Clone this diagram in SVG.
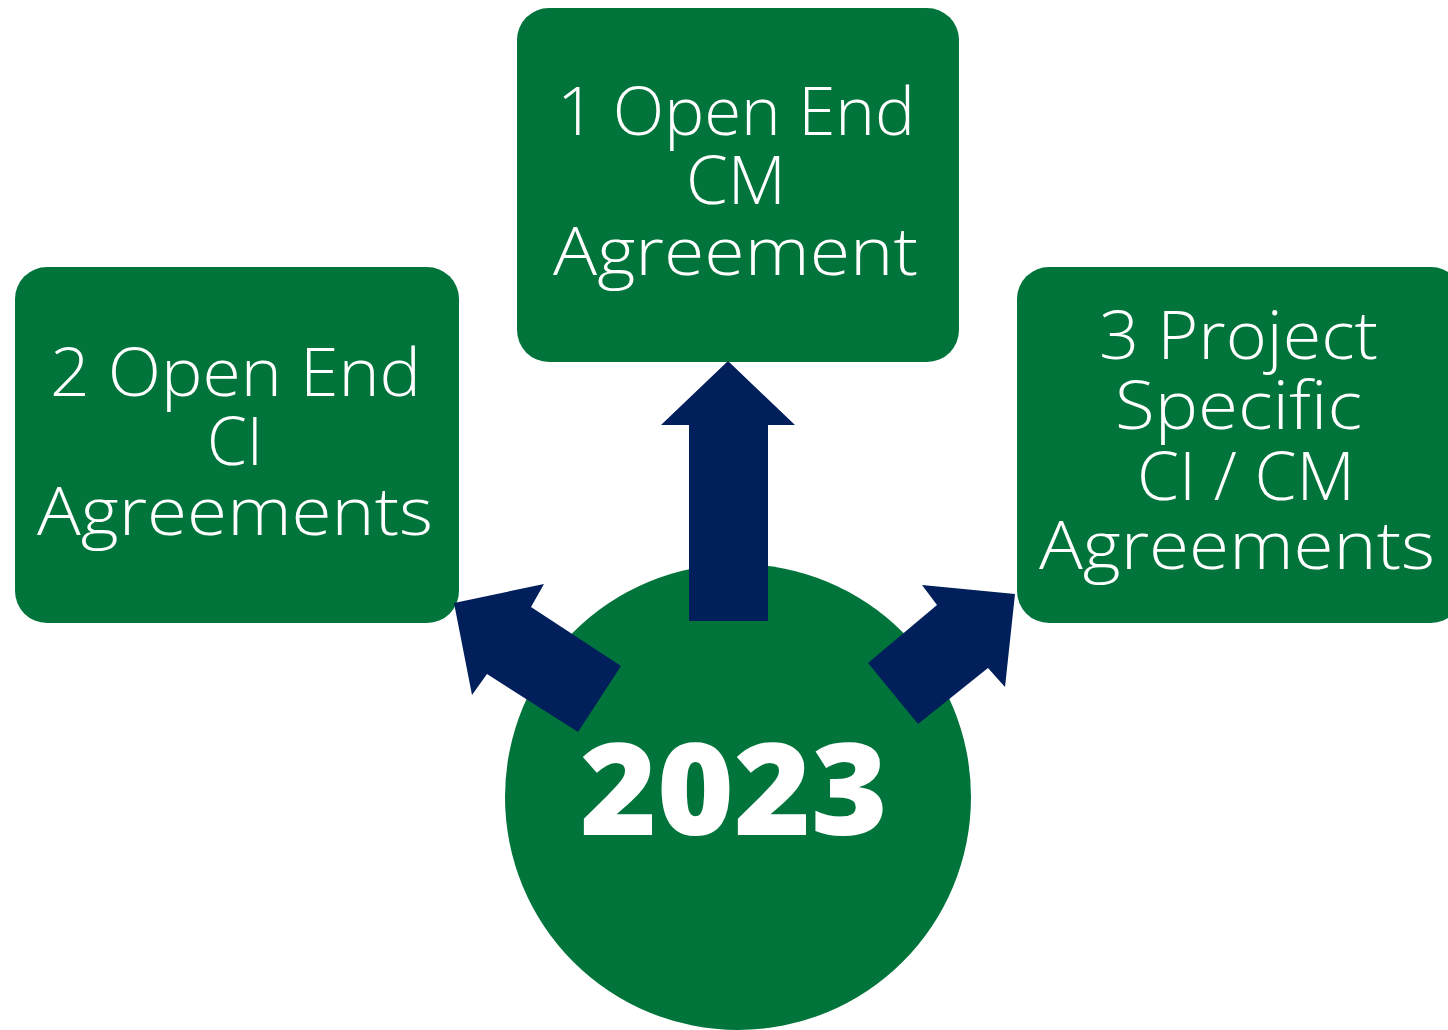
<svg xmlns="http://www.w3.org/2000/svg" width="1448" height="1030" viewBox="0 0 1448 1030">
  <style>
    .box { fill: #00743A; }
    .lbl { fill: #FFFFFF; font-family: "Open Sans", "Liberation Sans", sans-serif; font-size: 66px; font-weight: 300; }
    .year { fill: #FFFFFF; font-family: "Open Sans", "Liberation Sans", sans-serif; font-size: 128px; font-weight: 800; }
    .arrow { fill: #001F5B; }
  </style>
  <rect width="1448" height="1030" fill="#FFFFFF"/>
  <g id="hub">
    <circle class="box" cx="738" cy="797" r="233"/>
  </g>
  <g id="node-top">
    <rect class="box" x="517" y="8" width="442" height="354" rx="32"/>
    <text class="lbl" x="557" y="135" textLength="358" lengthAdjust="spacingAndGlyphs">1 Open End</text>
    <text class="lbl" x="686" y="204" textLength="100" lengthAdjust="spacingAndGlyphs">CM</text>
    <text class="lbl" x="553" y="275" textLength="365" lengthAdjust="spacingAndGlyphs">Agreement</text>
  </g>
  <g id="node-left">
    <rect class="box" x="15" y="267" width="444" height="356" rx="32"/>
    <text class="lbl" x="50" y="396" textLength="371" lengthAdjust="spacingAndGlyphs">2 Open End</text>
    <text class="lbl" x="207" y="465" textLength="56" lengthAdjust="spacingAndGlyphs">CI</text>
    <text class="lbl" x="37" y="535" textLength="396" lengthAdjust="spacingAndGlyphs">Agreements</text>
  </g>
  <g id="node-right">
    <rect class="box" x="1017" y="267" width="446" height="356" rx="32"/>
    <text class="lbl" x="1099" y="359" textLength="279" lengthAdjust="spacingAndGlyphs">3 Project</text>
    <text class="lbl" x="1115" y="429" textLength="247" lengthAdjust="spacingAndGlyphs">Specific</text>
    <text class="lbl" x="1137" y="500" textLength="218" lengthAdjust="spacingAndGlyphs">CI / CM</text>
    <text class="lbl" x="1039" y="569" textLength="396" lengthAdjust="spacingAndGlyphs">Agreements</text>
  </g>
  <g id="connectors">
    <polygon class="arrow" points="728,361 795,425 768,425 768,621 689,621 689,425 661,425"/>
    <polygon class="arrow" points="454,603 544,584 531,607 621,666 578,732 487,674 472,695"/>
    <polygon class="arrow" points="1015,594 1005,687 988,668 918,724 868,663 937,605 922,585"/>
  </g>
  <g id="label-year">
    <text class="year" x="580" y="835" textLength="308" lengthAdjust="spacingAndGlyphs">2023</text>
  </g>
</svg>
